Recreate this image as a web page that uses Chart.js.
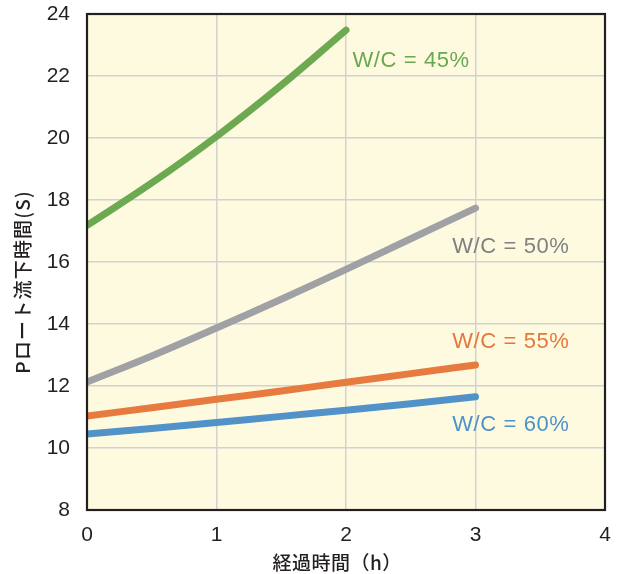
<!DOCTYPE html>
<html>
<head>
<meta charset="utf-8">
<script src="https://cdn.jsdelivr.net/npm/chart.js@4/dist/chart.umd.min.js"></script>
<style>
  html, body { margin: 0; padding: 0; background: #fff; }
  #wrap { width: 625px; height: 574px; }
</style>
</head>
<body>
<div id="wrap"><canvas id="chart" width="625" height="574"></canvas></div>
<script>
// elapsed time (h)
const hours = [0, 0.5, 1, 1.5, 2, 2.5, 3];
// funnel flow time (s) per W/C ratio
const wc45 = [17.18, 18.55, 20.05, 21.7, 23.48];
const wc50 = [12.13, 12.97, 13.87, 14.8, 15.76, 16.75, 17.74];
const wc55 = [11.03, 11.3, 11.57, 11.84, 12.12, 12.4, 12.68];
const wc60 = [10.45, 10.63, 10.82, 11.02, 11.22, 11.43, 11.65];
const seriesNames = ['W/C = 45%', 'W/C = 50%', 'W/C = 55%', 'W/C = 60%'];
const xTicks = [0, 1, 2, 3, 4];
const yTicks = [8, 10, 12, 14, 16, 18, 20, 22, 24];

const toPoints = vals => vals.map((v, i) => ({x: hours[i], y: v}));

const lineColors = ['#6ca950', '#a0a1a4', '#e67a3f', '#5193c9'];
const textColors = ['#6aa84f', '#7f8084', '#e5773c', '#4f92c8'];
// where each series name sits, in data units (left edge, middle)
const labelAt = [[2.05, 22.5], [2.82, 16.5], [2.82, 13.42], [2.82, 10.74]];

const jp = '"Noto Sans CJK JP", "Noto Sans", sans-serif';
const latin = '"Liberation Sans", Arial, sans-serif';

const plotDecor = {
  id: 'plotDecor',
  beforeDraw(chart) {
    const {ctx, chartArea: a} = chart;
    ctx.save();
    ctx.fillStyle = '#fefae0';
    ctx.fillRect(a.left, a.top, a.right - a.left, a.bottom - a.top);
    ctx.restore();
  },
  afterDraw(chart) {
    const {ctx, chartArea: a, scales} = chart;
    ctx.save();
    ctx.strokeStyle = '#231f20';
    ctx.lineWidth = 2.2;
    ctx.strokeRect(a.left, a.top, a.right - a.left, a.bottom - a.top);

    // series labels
    ctx.font = '22px ' + latin;
    ctx.letterSpacing = '0.6px';
    ctx.textAlign = 'left';
    ctx.textBaseline = 'middle';
    seriesNames.forEach((name, i) => {
      ctx.fillStyle = textColors[i];
      ctx.fillText(name, scales.x.getPixelForValue(labelAt[i][0]), scales.y.getPixelForValue(labelAt[i][1]));
    });

    // axis titles
    ctx.fillStyle = '#231f20';
    ctx.letterSpacing = '0.5px';
    ctx.font = '500 19px ' + jp;
    ctx.textAlign = 'center';
    ctx.fillText('経過時間（h）', a.left + (a.right - a.left) * 0.483, 563);
    ctx.translate(23, a.top + (a.bottom - a.top) * 0.54);
    ctx.rotate(-Math.PI / 2);
    ctx.letterSpacing = '1.2px';
    ctx.fillText('Pロート流下時間(S)', 0, 0);
    ctx.restore();
  }
};

const mkSet = (vals, i) => ({
  label: seriesNames[i],
  data: toPoints(vals),
  borderColor: lineColors[i],
  borderWidth: 7,
  borderCapStyle: 'round',
  borderJoinStyle: 'round',
  pointRadius: 0,
  fill: false,
  tension: 0.4,
});

new Chart(document.getElementById('chart'), {
  type: 'line',
  data: {
    datasets: [mkSet(wc45, 0), mkSet(wc50, 1), mkSet(wc55, 2), mkSet(wc60, 3)]
  },
  options: {
    responsive: false,
    animation: false,
    layout: {padding: {top: 0, right: 20, bottom: 0, left: 0}},
    plugins: {legend: {display: false}, tooltip: {enabled: false}},
    scales: {
      x: {
        type: 'linear',
        min: 0, max: 4,
        afterBuildTicks: s => { s.ticks = xTicks.map(v => ({value: v})); },
        afterFit: s => { s.height = 64; },
        grid: {color: '#d2d2d2', lineWidth: 1.5, drawTicks: false},
        border: {display: false},
        ticks: {padding: 13, color: '#231f20', font: {family: latin, size: 21}}
      },
      y: {
        min: 8, max: 24,
        afterBuildTicks: s => { s.ticks = yTicks.map(v => ({value: v})); },
        afterFit: s => { s.width = 87; s.paddingTop = 14; },
        grid: {color: '#d2d2d2', lineWidth: 1.5, drawTicks: false},
        border: {display: false},
        ticks: {padding: 17, color: '#231f20', font: {family: latin, size: 21}}
      }
    }
  },
  plugins: [plotDecor]
});
</script>
</body>
</html>
